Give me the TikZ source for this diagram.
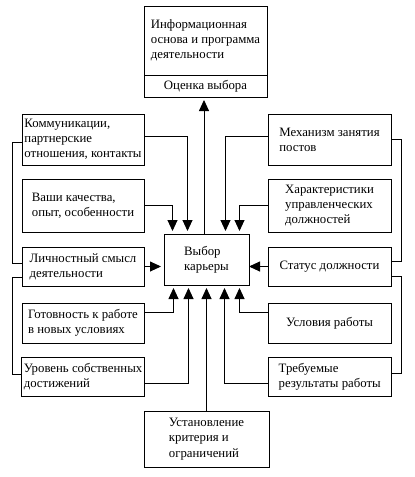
\documentclass[tikz,border=0pt]{standalone}
\usepackage{fontspec}
\setmainfont{Liberation Serif}
\usetikzlibrary{arrows.meta,positioning}

\begin{document}
\begin{tikzpicture}[x=1pt,y=-1pt,
        blok/.style={draw,line width=.9pt,outer sep=0pt,minimum width=122pt,align=left,inner sep=2pt,font=\fontsize{12.8}{15.2}\selectfont},
        svyaz/.style={line width=.9pt},
        strelka/.style={svyaz,-{Triangle[length=11pt,width=10pt]},shorten >=3pt}]
  \useasboundingbox (0,0) rectangle (415,477);
  \node[blok,minimum width=123pt,minimum height=69pt] (info) at (205.5,40.5) {Информационная\\основа и программа\\деятельности};
  \node[blok,minimum width=123pt,minimum height=22pt,below=0pt of info,align=center] (ocenka) {Оценка выбора};
  \node[blok,minimum width=85pt,minimum height=51pt] (vybor) at (206.5,259.5) {Выбор\\карьеры};
  \node[blok,minimum width=125pt,minimum height=56pt] (kriterii) at (206.5,439) {Установление\\критерия и\\ограничений};
  % left column
  \node[blok,minimum height=51pt] (l1) at (83,139.5) {Коммуникации,\\партнерские\\отношения, контакты};
  \node[blok,minimum height=53pt,below=14pt of l1] (l2) {Ваши качества,\\опыт, особенности};
  \node[blok,minimum height=39pt,below=15pt of l2] (l3) {Личностный смысл\\деятельности};
  \node[blok,minimum height=40pt,below=17pt of l3] (l4) {Готовность к работе\\в новых условиях};
  \node[blok,minimum height=39pt,below=14pt of l4] (l5) {Уровень собственных\\достижений};
  % right column
  \node[blok,minimum width=123pt,minimum height=51pt,right=124pt of l1] (r1) {Механизм занятия\\постов};
  \node[blok,minimum width=123pt,minimum height=53pt,right=124pt of l2] (r2) {Характеристики\\управленческих\\должностей};
  \node[blok,minimum width=123pt,minimum height=39pt,right=124pt of l3] (r3) {Статус должности};
  \node[blok,minimum width=123pt,minimum height=40pt,right=124pt of l4] (r4) {Условия работы};
  \node[blok,minimum width=123pt,minimum height=39pt,right=124pt of l5] (r5) {Требуемые\\результаты работы};
  % arrows into the choice
  \draw[strelka] ([yshift=3.5pt]l1.east) -| ([xshift=-19pt]vybor.north);
  \draw[strelka] (l2.east) -| ([xshift=-34pt]vybor.north);
  \draw[strelka] ([yshift=3.5pt]r1.west) -| ([xshift=19pt]vybor.north);
  \draw[strelka] (r2.west) -| ([xshift=33pt]vybor.north);
  \draw[strelka] (l3.east) -- (l3.east -| vybor.west);
  \draw[strelka,shorten >=0pt] (r3.west) -- (r3.west -| vybor.east);
  \draw[strelka] ([yshift=11pt]l4.east) -| ([xshift=-33pt]vybor.south);
  \draw[strelka] ([yshift=-6.5pt]l5.east) -| ([xshift=-18pt]vybor.south);
  \draw[strelka] (kriterii.north) -- (kriterii.north |- vybor.south);
  \draw[strelka] ([yshift=-6.5pt]r5.west) -| ([xshift=18pt]vybor.south);
  \draw[strelka] ([yshift=11pt]r4.west) -| ([xshift=33pt]vybor.south);
  % up to the evaluation
  \coordinate (verh) at ([xshift=-2.5pt]vybor.north);
  \draw[strelka] (verh) -- (verh |- ocenka.south);
  % side brackets
  \draw[svyaz] ([yshift=-2.5pt]l1.west) -- ++(-10pt,0) |- ([yshift=3.5pt]l3.west);
  \draw[svyaz] ([yshift=-10.5pt]l3.west) -- ++(-10pt,0) |- ([yshift=2.5pt]l5.west);
  \draw[svyaz] (r1.east) -- ++(10pt,0) |- ([yshift=5.5pt]r3.east);
  \draw[svyaz] ([yshift=-9.5pt]r3.east) -- ++(10pt,0) |- ([yshift=3.5pt]r5.east);
\end{tikzpicture}
\end{document}
